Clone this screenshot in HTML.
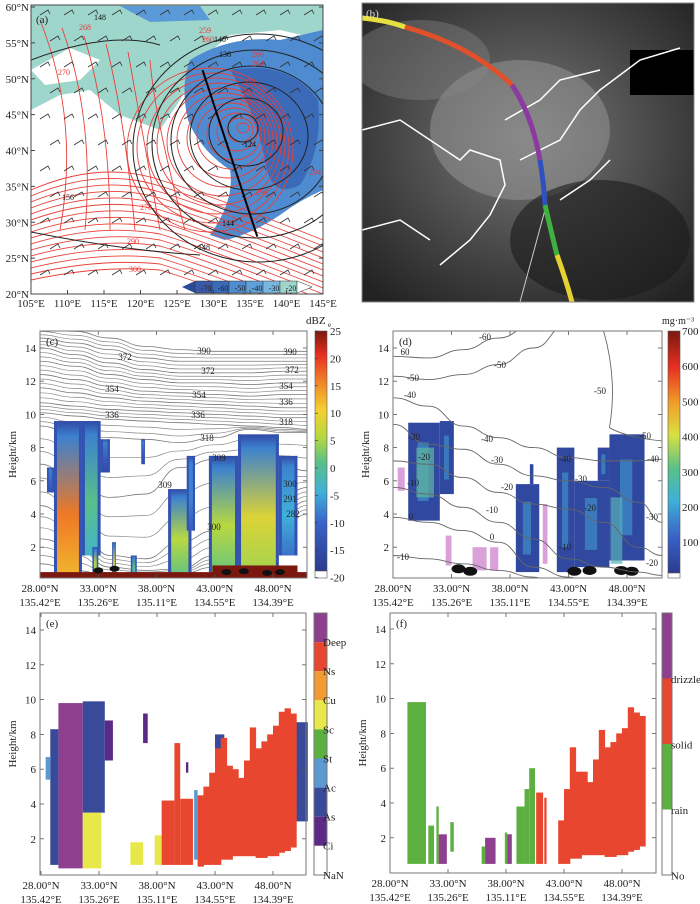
<!DOCTYPE html>
<html><head><meta charset="utf-8"><style>
html,body{margin:0;padding:0;background:#fff;}
svg{display:block;font-family:"Liberation Serif",serif;}
text{fill:#222;}
</style></head><body>
<svg id="s" width="700" height="904" viewBox="0 0 700 904" xmlns="http://www.w3.org/2000/svg">
<defs>
<clipPath id="clipA"><rect x="31" y="5" width="292" height="289"/></clipPath>
<clipPath id="clipB"><rect x="362" y="3" width="332" height="299"/></clipPath>
<clipPath id="clipC"><rect x="40" y="331" width="267" height="247"/></clipPath>
<clipPath id="clipD"><rect x="393" y="331" width="269" height="247"/></clipPath>
<linearGradient id="cbC" x1="0" y1="1" x2="0" y2="0">
<stop offset="0" stop-color="#2b3a8f"/><stop offset="0.2" stop-color="#3a62c8"/><stop offset="0.33" stop-color="#3fb0d8"/><stop offset="0.45" stop-color="#58c08a"/><stop offset="0.56" stop-color="#b8d840"/><stop offset="0.67" stop-color="#f4d030"/><stop offset="0.78" stop-color="#f08a28"/><stop offset="0.9" stop-color="#e83020"/><stop offset="1" stop-color="#7a1810"/></linearGradient>
<linearGradient id="cbD" x1="0" y1="1" x2="0" y2="0">
<stop offset="0" stop-color="#2b3a8f"/><stop offset="0.15" stop-color="#3a62c8"/><stop offset="0.3" stop-color="#3fb0d8"/><stop offset="0.43" stop-color="#58c08a"/><stop offset="0.57" stop-color="#d8e040"/><stop offset="0.7" stop-color="#f0a028"/><stop offset="0.85" stop-color="#e83020"/><stop offset="1" stop-color="#7a1810"/></linearGradient>
<radialGradient id="satG" cx="0.5" cy="0.45" r="0.7"><stop offset="0" stop-color="#7a7a7a"/><stop offset="0.6" stop-color="#444"/><stop offset="1" stop-color="#222"/></radialGradient>
</defs>
<g id="pa"></g>
<g id="pb"></g>
<g id="pc"></g>
<g id="pd"></g>
<g id="pe"></g>
<g id="pf"></g>
</svg>
<script>
// ---------- data ----------
const latTicks = ["28.00°N","33.00°N","38.00°N","43.00°N","48.00°N"];
const lonTicks = ["135.42°E","135.26°E","135.11°E","134.55°E","134.39°E"];
const latTickVals = [28,33,38,43,48];
const heightTicks = [2,4,6,8,10,12,14];
const contourLats = [28,31,34,37,40,43,46,49,51];
const thetaLevels = [390,381,372,363,354,345,336,327,318,309,300,291,282];
const thetaHeights = [
 [15.2,15.0,14.6,14.1,13.9,13.8,13.8,13.8,13.8],
 [14.6,14.3,13.9,13.4,13.2,13.2,13.2,13.2,13.2],
 [14.0,13.6,13.1,12.7,12.5,12.5,12.5,12.6,12.6],
 [13.2,12.9,12.4,12.1,11.9,11.9,11.8,11.9,11.9],
 [12.4,12.1,11.7,11.4,11.3,11.2,11.1,11.2,11.2],
 [11.6,11.3,11.0,10.8,10.7,10.6,10.5,10.4,10.4],
 [10.7,10.5,10.3,10.2,10.1,10.0,9.9,9.8,9.8],
 [10.1,9.9,9.7,9.6,9.5,9.4,9.3,9.2,9.1],
 [9.3,8.8,8.6,8.5,8.3,8.6,9.1,8.9,8.9],
 [7.0,6.0,5.0,5.2,6.8,7.3,7.3,6.8,6.6],
 [4.5,3.5,1.5,1.3,2.3,3.0,4.0,5.2,5.6],
 [2.5,2.0,0.8,0.6,0.7,1.5,3.0,4.2,4.8],
 [1.0,0.6,0.3,0.3,0.4,0.8,2.0,3.4,4.0]];
const tempLevels = [60,50,40,30,20,10,0,-10];
const tempHeights = [
 [13.5,13.4,13.9,14.6,15.4,16.0,16.0,16.0,16.0],
 [12.3,12.1,12.4,13.0,14.0,15.5,16.0,16.0,16.0],
 [11.0,10.5,9.3,8.6,8.0,7.4,7.2,7.2,7.3],
 [9.4,8.2,7.9,7.0,6.3,6.0,5.6,4.7,3.5],
 [7.2,7.0,6.2,5.3,4.6,4.3,3.5,2.0,1.5],
 [5.6,5.2,4.4,3.5,2.5,1.3,0.8,0.5,0.3],
 [3.8,3.5,3.0,2.3,0.8,0.2,-1,-1,-1],
 [1.5,1.3,1.0,0.6,0.2,-1,-1,-1,-1]];
const dbzLat0 = [29.2,31.6,28.6,33.2,36.7,32.5,34.2,35.8,39.0,40.6,42.5,45.0,48.5];
const dbzLat1 = [31.6,33.2,29.2,34.0,37.0,33.0,34.5,36.3,41.0,41.3,45.0,48.5,50.1];
const dbzBot  = [0.3,1.5,5.3,6.5,7.0,0.3,0.3,0.3,0.5,3.0,0.5,0.5,1.5];
const dbzTop  = [9.6,9.6,6.8,8.5,8.5,2.0,2.3,1.5,5.5,7.5,7.5,8.8,7.5];
const dbzPeak = [16,0,-10,-12,-12,5,10,0,5,-8,5,8,-5];
const iwcLat0 = [29.3,32.0,38.5,39.7,42.0,43.5,45.5,46.5];
const iwcLat1 = [32.0,33.2,40.5,40.0,43.5,46.5,46.5,49.5];
const iwcBot  = [3.6,5.2,0.5,5.8,0.5,0.8,6.0,1.2];
const iwcTop  = [9.5,9.6,5.8,7.0,8.0,6.0,8.0,8.8];
const ctypeNames = ["Ci","As","Ac","St","Sc","Cu","Ns","Deep"];
const ctypeColors = ["#5b2a86","#3a4a9a","#3a4a9a","#5a9ad0","#e8e84a","#f39a30","#e8462e","#8e3f8e"];
const cLat0 = [29.5,28.8,31.6,48.6,28.4,41.2,31.6,35.7,37.8,33.5,36.8,38.4,39.5,40.0,43.0,40.5];
const cLat1 = [31.6,29.5,33.5,51.0,28.8,41.5,33.2,36.8,38.4,34.2,37.2,39.5,40.0,41.1,43.8,40.7];
const cBot  = [0.3,0.5,3.5,3.0,5.4,0.8,0.3,0.5,0.5,6.5,7.5,0.5,0.5,0.5,6.5,5.8];
const cTop  = [9.8,8.3,9.9,8.7,6.7,4.8,3.5,1.8,2.2,8.8,9.2,4.2,7.5,4.3,8.0,6.4];
const cCls  = [7,1,1,1,3,3,4,4,4,0,0,6,6,6,1,0];
const nsLat = [41.5,42.0,42.5,43.0,43.5,44.0,44.5,45.0,45.5,46.0,46.5,47.0,47.5,48.0,48.5,49.0,49.5];
const nsBot = [0.4,0.5,0.5,0.5,0.8,0.8,1.0,1.0,1.0,1.0,0.9,0.9,1.0,1.0,1.2,1.3,1.5];
const nsTop = [4.5,5.0,5.8,7.2,7.8,6.2,6.0,5.5,6.5,8.4,7.2,7.6,8.0,8.5,9.3,9.5,9.2];
const solTop = [0,0,3.0,4.8,7.2,5.8,5.8,5.2,6.5,8.2,7.2,7.5,8.0,8.3,9.5,9.2,9.0];
const pNames = ["rain","solid","drizzle"];
const pColors = ["#5cb040","#e8462e","#8e3f8e"];
const pLat0 = [29.5,31.3,32.0,33.2,35.9,37.9,38.9,39.6,40.0,32.2,36.2,38.1,40.6,41.3];
const pLat1 = [31.1,31.8,32.2,33.5,36.2,38.1,39.6,40.0,40.5,32.9,37.1,38.5,41.2,41.5];
const pBot  = [0.5,0.5,0.5,1.2,0.5,0.5,0.5,0.5,0.5,0.5,0.5,0.5,0.5,0.5];
const pTop  = [9.8,2.7,3.8,2.9,1.5,2.3,3.8,4.8,6.0,2.2,2.0,2.2,4.6,4.3];
const pCls  = [0,0,0,0,0,0,0,0,0,2,2,2,1,1];

const NS="http://www.w3.org/2000/svg";
function mk(parent,tag,attrs,txt){const e=document.createElementNS(NS,tag);for(const k in attrs)e.setAttribute(k,attrs[k]);if(txt!==undefined)e.textContent=txt;parent.appendChild(e);return e;}
function dbzColor(v){const st=[[-20,[43,58,143]],[-10,[58,98,200]],[-5,[63,176,216]],[0,[88,192,138]],[5,[184,216,64]],[10,[244,208,48]],[15,[240,138,40]],[20,[232,48,32]],[25,[122,24,16]]];
 for(let i=0;i<st.length-1;i++){if(v<=st[i+1][0]){const t=(v-st[i][0])/(st[i+1][0]-st[i][0]);const c=st[i][1].map((a,j)=>Math.round(a+(st[i+1][1][j]-a)*Math.max(0,t)));return `rgb(${c})`;}}return "rgb(122,24,16)";}
function smoothPath(pts){let d=`M${pts[0][0]},${pts[0][1]}`;for(let i=1;i<pts.length;i++){const p0=pts[i-1],p1=pts[i];const mx=(p0[0]+p1[0])/2;d+=` C${mx},${p0[1]} ${mx},${p1[1]} ${p1[0]},${p1[1]}`;}return d;}

function vertPanel(g,cfg){
 const {x0,x1,y0,y1,X,Y,letter}=cfg;
 heightTicks.forEach(h=>{const yy=Y(h);
  const t=mk(g,"line",{x1:x0,x2:x0+4,y1:yy,y2:yy,stroke:"#555","stroke-width":0.8});
  
  mk(g,"line",{x1:x1,x2:x1-4,y1:yy,y2:yy,stroke:"#555","stroke-width":0.8});
  const l=mk(g,"text",{x:x0-4,y:yy+4,"text-anchor":"end","font-size":11},h);
  });
 latTickVals.forEach((v,i)=>{const xx=X(v);
  mk(g,"line",{x1:xx,x2:xx,y1:y1,y2:y1-4,stroke:"#555","stroke-width":0.8});
  mk(g,"line",{x1:xx,x2:xx,y1:y0,y2:y0+4,stroke:"#555","stroke-width":0.8});
  const a=mk(g,"text",{x:xx,y:y1+14,"text-anchor":"middle","font-size":11},latTicks[i]);
  
  const b=mk(g,"text",{x:xx,y:y1+28,"text-anchor":"middle","font-size":11},lonTicks[i]);
  });
 const fr=mk(g,"rect",{x:x0,y:y0,width:x1-x0,height:y1-y0,fill:"none",stroke:"#777","stroke-width":1});
 
 const yl=mk(g,"text",{x:0,y:0,transform:`translate(${x0-24},${(y0+y1)/2}) rotate(-90)`,"text-anchor":"middle","font-size":11},"Height/km");
 
 const pl=mk(g,"text",{x:x0+6,y:y0+14,"font-size":11},letter);
 
}

// ---------- panel (a) ----------
(function(){
 const g=document.getElementById('pa');
 const LX=l=>31+(l-105)*7.3, LY=p=>7+(60-p)*7.175;
 const cg=mk(g,"g",{"clip-path":"url(#clipA)"});
 mk(cg,"path",{d:`M31,5 L323,5 L323,40 L280,30 L230,35 L200,60 L180,100 L160,130 L120,115 L90,90 L60,95 L31,110 Z`,fill:"#9ed6cc"});
 mk(cg,"path",{d:`M31,70 L70,48 L100,60 L80,80 L45,85 Z`,fill:"#ffffff"});
 mk(cg,"path",{d:`M190,60 Q230,35 280,40 L323,30 L323,190 Q300,200 280,215 Q250,235 225,240 L210,235 Q235,200 230,170 Q200,150 188,120 Q180,85 190,60 Z`,fill:"#4f8bd0"});
 mk(cg,"path",{d:`M230,70 Q290,60 318,100 Q323,150 300,185 Q270,200 265,160 Q255,110 230,70 Z`,fill:"#3a6ab8"});
 mk(cg,"path",{d:`M120,6 L200,6 L210,20 L150,22 Z`,fill:"#5a9ad8"});
 const cx=243,cy=128;
 for(let i=0;i<12;i++){const rx=6+i*7,ry=5+i*7;
  const p=mk(cg,"ellipse",{cx:cx-i*3,cy:cy+i*2,rx:rx,ry:ry,fill:"none",stroke:"#e8403a","stroke-width":0.9});
  }
 for(let i=0;i<16;i++){const yb=190+i*6;
  mk(cg,"path",{d:`M31,${yb} Q100,${yb-30+i} 160,${yb-10} Q210,${yb+5} 323,${yb+50}`,fill:"none",stroke:"#e8403a","stroke-width":0.9});}
 for(let i=0;i<6;i++){mk(cg,"path",{d:`M${40+i*22},${20+i*8} Q${80+i*15},${120} ${60+i*25},${230}`,fill:"none",stroke:"#e8403a","stroke-width":0.9});}
 for(let i=0;i<6;i++){const rx=15+i*22,ry=14+i*20;
  mk(cg,"ellipse",{cx:cx+i*3,cy:cy+i*4,rx:rx,ry:ry,fill:"none",stroke:"#222","stroke-width":1});}
 mk(cg,"path",{d:`M31,60 Q110,30 160,45`,fill:"none",stroke:"#222","stroke-width":1});
 mk(cg,"path",{d:`M31,232 Q120,250 200,255`,fill:"none",stroke:"#222","stroke-width":1});
 for(let r=0;r<11;r++)for(let c=0;c<12;c++){const x=40+c*24+(r%2)*10,y=15+r*26;
  mk(cg,"path",{d:`M${x},${y} l8,-5 l2,4`,fill:"none",stroke:"#333","stroke-width":0.8});}
 const sl=mk(g,"line",{x1:LX(128.5),y1:LY(51.2),x2:LX(136),y2:LY(28),stroke:"#000","stroke-width":2});
 
 [["148",100,20,"#111"],["268",85,30,"#e33"],["270",64,75,"#e33"],["259",205,33,"#e33"],["260",208,42,"#e33"],["140",220,42,"#111"],["136",225,57,"#111"],["266",258,57,"#e33"],["264",258,66,"#e33"],["272",250,85,"#e33"],["274",245,96,"#e33"],["276",245,105,"#e33"],["124",250,147,"#111"],["156",68,200,"#111"],["294",315,175,"#e33"],["296",262,195,"#e33"],["144",228,226,"#111"],["148",204,250,"#111"],["278",146,210,"#e33"],["290",133,244,"#e33"],["300",135,272,"#e33"]].forEach(a=>{
  const t=mk(g,"text",{x:a[1],y:a[2],"font-size":8,"text-anchor":"middle",style:`fill:${a[3]}`},a[0]);
  });
 const cbc=["#3a5aa8","#3a6ab8","#4f8bd0","#5fa0d8","#78b8e0","#9ed6cc"];
 mk(g,"path",{d:"M182,287 L195,281 L195,293 Z",fill:"#2b4a98"});
 for(let i=0;i<6;i++){mk(g,"rect",{x:195+i*17,y:281,width:17,height:12,fill:cbc[i],stroke:"#333","stroke-width":0.5});}
 mk(g,"path",{d:"M297,281 L312,287 L297,293 Z",fill:"#fff",stroke:"#333","stroke-width":0.5});
 ["-70","-60","-50","-40","-30","-20"].forEach((v,i)=>{const t=mk(g,"text",{x:206+i*17,y:291,"font-size":8,"text-anchor":"middle"},v);});
 mk(g,"rect",{x:31,y:5,width:292,height:289,fill:"none",stroke:"#444","stroke-width":1});
 ["60°N","55°N","50°N","45°N","40°N","35°N","30°N","25°N","20°N"].forEach((s,i)=>{const yy=LY(60-5*i);
  const t=mk(g,"text",{x:29,y:yy+4,"text-anchor":"end","font-size":11},s);
  mk(g,"line",{x1:31,x2:35,y1:yy,y2:yy,stroke:"#444"});mk(g,"line",{x1:323,x2:319,y1:yy,y2:yy,stroke:"#444"});});
 ["105°E","110°E","115°E","120°E","125°E","130°E","135°E","140°E","145°E"].forEach((s,i)=>{const xx=LX(105+5*i);
  const t=mk(g,"text",{x:xx,y:307,"text-anchor":"middle","font-size":11},s);
  mk(g,"line",{x1:xx,x2:xx,y1:294,y2:290,stroke:"#444"});});
 const pl=mk(g,"text",{x:36,y:23,"font-size":11},"(a)");
})();

// ---------- panel (b) ----------
(function(){
 const g=document.getElementById('pb');
 const cg=mk(g,"g",{"clip-path":"url(#clipB)"});
 mk(cg,"rect",{x:362,y:3,width:332,height:299,fill:"url(#satG)"});
 mk(cg,"ellipse",{cx:520,cy:130,rx:90,ry:70,fill:"#9a9a9a",opacity:0.5});
 mk(cg,"ellipse",{cx:420,cy:60,rx:70,ry:40,fill:"#888",opacity:0.4});
 mk(cg,"ellipse",{cx:600,cy:240,rx:90,ry:60,fill:"#1a1a1a",opacity:0.6});
 mk(cg,"rect",{x:630,y:50,width:64,height:45,fill:"#000"});
 const coast=mk(cg,"path",{d:"M362,130 L400,120 L430,140 L460,160 L470,150 L500,160 L505,185 L490,215 L470,240 L440,265 M362,230 L400,220 L430,240 M520,160 L540,150 L560,140 L580,110 L600,90 L640,60 L680,48 M505,120 L540,100 L560,80 L600,70 M560,200 L590,180 L610,160",fill:"none",stroke:"#fff","stroke-width":1.5});
 
 mk(cg,"line",{x1:520,y1:302,x2:545,y2:210,stroke:"#ccc","stroke-width":1});
 const segs=[["#e8e040","M362,18 Q385,20 405,27"],["#e0502a","M405,27 Q470,45 512,85"],["#8a3aa0","M512,85 Q532,115 540,160"],["#3050c0","M540,160 Q544,185 545,205"],["#40b040","M545,205 Q552,235 557,255"],["#e8d030","M557,255 Q566,280 572,302"]];
 segs.forEach(s=>{const p=mk(cg,"path",{d:s[1],fill:"none",stroke:s[0],"stroke-width":5});});
 mk(g,"rect",{x:362,y:3,width:332,height:299,fill:"none",stroke:"#888"});
 const pl=mk(g,"text",{x:366,y:17,"font-size":11,style:"fill:#ddd"},"(b)");
})();

// ---------- panel (c) ----------
(function(){
 const g=document.getElementById('pc');
 const X=l=>40+(l-28)*11.65, Y=z=>348+(14-z)*16.6;
 const cg=mk(g,"g",{"clip-path":"url(#clipC)"});
 thetaLevels.forEach((lv,i)=>{const pts=contourLats.map((l,j)=>[X(l),Y(thetaHeights[i][j])]);
  const p=mk(cg,"path",{d:smoothPath(pts),fill:"none",stroke:"#777","stroke-width":0.8});
  
  if(i<thetaLevels.length-1){[1/3,2/3].forEach(f=>{const mid=contourLats.map((l,j)=>[X(l),Y(thetaHeights[i][j]*(1-f)+thetaHeights[i+1][j]*f)]);mk(cg,"path",{d:smoothPath(mid),fill:"none",stroke:"#888","stroke-width":0.7});});}
 });
 dbzLat0.forEach((l0,i)=>{const x0=X(l0),x1=X(dbzLat1[i]),yt=Y(dbzTop[i]),yb=Y(dbzBot[i]);
  const gid="gc"+i;const lg=mk(g.ownerSVGElement.querySelector('defs'),"linearGradient",{id:gid,x1:0,y1:0,x2:0,y2:1});
  mk(lg,"stop",{offset:0,"stop-color":dbzColor(-16)});mk(lg,"stop",{offset:0.1,"stop-color":dbzColor(-8)});mk(lg,"stop",{offset:0.6,"stop-color":dbzColor(dbzPeak[i])});mk(lg,"stop",{offset:1,"stop-color":dbzColor(dbzPeak[i]-4)});
  const r=mk(cg,"rect",{x:x0,y:yt,width:x1-x0,height:yb-yt,fill:`url(#${gid})`});
  
  mk(cg,"rect",{x:x0,y:yt,width:Math.min(3,(x1-x0)/4),height:yb-yt,fill:dbzColor(-14)});
  mk(cg,"rect",{x:x1-Math.min(3,(x1-x0)/4),y:yt,width:Math.min(3,(x1-x0)/4),height:yb-yt,fill:dbzColor(-14)});
 });
 mk(cg,"rect",{x:40,y:Y(0.5),width:267,height:Y(0)-Y(0.5),fill:"#7a1810"});
 mk(cg,"rect",{x:X(42.8),y:Y(0.9),width:X(50.1)-X(42.8),height:Y(0.4)-Y(0.9),fill:"#7a1810"});
 [[44,0.5],[45.5,0.55],[47.5,0.45],[48.6,0.5],[33,0.6],[34.4,0.7]].forEach(b=>mk(cg,"ellipse",{cx:X(b[0]),cy:Y(b[1]),rx:5,ry:3,fill:"#111"}));
 [["372",125,360],["390",204,354],["390",290,355],["372",208,374],["372",292,373],["354",112,392],["354",199,398],["354",286,389],["336",112,418],["336",198,418],["336",286,405],["318",207,441],["318",286,425],["309",219,461],["300",290,487],["291",290,502],["282",293,517],["300",214,530],["309",165,488]].forEach(a=>{
  const t=mk(g,"text",{x:a[1],y:a[2],"font-size":9,"text-anchor":"middle"},a[0]);});
 vertPanel(g,{x0:40,x1:307,y0:331,y1:578,X:X,Y:Y,letter:"(c)"});
 const cb=mk(g,"rect",{x:315,y:331,width:12,height:240,fill:"url(#cbC)",stroke:"#555","stroke-width":0.6});
 
 mk(g,"rect",{x:315,y:571,width:12,height:7,fill:"#fff",stroke:"#555","stroke-width":0.6});
 ["25","20","15","10","5","0","-5","-10","-15","-20"].forEach((v,i)=>{const yy=331+i*27.4;
  const t=mk(g,"text",{x:330,y:yy+4,"font-size":11},v);
  mk(g,"line",{x1:315,x2:318,y1:yy,y2:yy,stroke:"#333","stroke-width":0.6});});
 const u=mk(g,"text",{x:306,y:324,"font-size":11},"dBZ");
 mk(g,"text",{x:328,y:327,"font-size":7},"e");
})();

// ---------- panel (d) ----------
(function(){
 const g=document.getElementById('pd');
 const X=l=>393+(l-28)*11.7, Y=z=>348+(14-z)*16.6;
 const cg=mk(g,"g",{"clip-path":"url(#clipD)"});
 iwcLat0.forEach((l0,i)=>{const x0=X(l0),x1=X(iwcLat1[i]),yt=Y(iwcTop[i]),yb=Y(iwcBot[i]);
  const r=mk(cg,"rect",{x:x0,y:yt,width:x1-x0,height:yb-yt,fill:"#3048a0"});
  
  if(x1-x0>10){mk(cg,"rect",{x:x0+(x1-x0)*0.3,y:yt+(yb-yt)*0.2,width:(x1-x0)*0.35,height:(yb-yt)*0.6,fill:"#3f8fc8",opacity:0.7});}
 });
 mk(cg,"rect",{x:X(30.0),y:Y(8),width:X(31.5)-X(30),height:Y(5)-Y(8),fill:"#60b8a0",opacity:0.7});
 mk(cg,"rect",{x:X(46.6),y:Y(5),width:X(47.6)-X(46.6),height:Y(1)-Y(5),fill:"#58b0b8",opacity:0.7});
 [[28.4,29.0,5.4,6.8],[32.5,33.0,0.9,2.7],[34.8,36.0,0.6,2.0],[36.3,37.0,0.6,2.0],[40.8,41.2,1,4.6]].forEach(m=>mk(cg,"rect",{x:X(m[0]),y:Y(m[3]),width:X(m[1])-X(m[0]),height:Y(m[2])-Y(m[3]),fill:"#c060c0",opacity:0.6}));
 [[33.6,0.7],[34.6,0.55],[43.5,0.55],[44.8,0.6],[47.5,0.6],[48.4,0.55]].forEach(b=>mk(cg,"ellipse",{cx:X(b[0]),cy:Y(b[1]),rx:7,ry:4.5,fill:"#111"}));
 tempLevels.forEach((lv,i)=>{const pts=contourLats.map((l,j)=>[X(l),Y(tempHeights[i][j])]);
  const p=mk(cg,"path",{d:smoothPath(pts),fill:"none",stroke:"#666","stroke-width":0.9});
  });
 mk(cg,"path",{d:`M${X(46)},331 Q${X(47.2)},380 ${X(46.5)},${Y(9.2)} Q${X(48)},${Y(8.6)} 662,${Y(8.4)}`,fill:"none",stroke:"#666","stroke-width":0.9});
 [["60",405,355],["-50",413,381],["-40",410,398],["-30",414,440],["-20",424,460],["-10",413,486],["0",411,520],["-10",403,560],["-60",485,340],["-50",500,368],["-40",487,442],["-30",497,463],["-20",507,490],["-10",492,513],["0",492,540],["-40",565,462],["-30",581,482],["-20",590,511],["-10",565,550],["-50",600,394],["-50",645,439],["-40",653,462],["-30",652,520],["-20",652,566]].forEach(a=>{
  const t=mk(g,"text",{x:a[1],y:a[2],"font-size":9,"text-anchor":"middle"},a[0]);});
 vertPanel(g,{x0:393,x1:662,y0:331,y1:578,X:X,Y:Y,letter:"(d)"});
 const cb=mk(g,"rect",{x:668,y:331,width:12,height:242,fill:"url(#cbD)",stroke:"#555","stroke-width":0.6});
 
 mk(g,"rect",{x:668,y:573,width:12,height:5,fill:"#fff",stroke:"#555","stroke-width":0.6});
 ["700","600","500","400","300","200","100"].forEach((v,i)=>{const yy=331+i*35.2;
  const t=mk(g,"text",{x:682,y:yy+4,"font-size":11},v);});
 const u=mk(g,"text",{x:662,y:324,"font-size":10},"mg·m⁻³");
})();

// ---------- panel (e) ----------
(function(){
 const g=document.getElementById('pe');
 const X=l=>41+(l-28)*11.6, Y=z=>630+(14-z)*17.4;
 cLat0.forEach((l0,i)=>{const r=mk(g,"rect",{x:X(l0),y:Y(cTop[i]),width:X(cLat1[i])-X(l0),height:Y(cBot[i])-Y(cTop[i]),fill:ctypeColors[cCls[i]]});
  });
 nsLat.forEach((l,i)=>{const r=mk(g,"rect",{x:X(l),y:Y(nsTop[i]),width:11.6*0.5+0.5,height:Y(nsBot[i])-Y(nsTop[i]),fill:"#e8462e"});
  });
 vertPanel(g,{x0:40,x1:306,y0:613,y1:875,X:X,Y:Y,letter:"(e)"});
 const segC=["#8e3f8e","#e8462e","#f39a30","#e8e84a","#5cb040","#5a9ad0","#3a4a9a","#5b2a86","#ffffff"];
 segC.forEach((c,i)=>{const r=mk(g,"rect",{x:314,y:613+i*29.1,width:13,height:29.1,fill:c});});
 mk(g,"rect",{x:314,y:613,width:13,height:262,fill:"none",stroke:"#777"});
 ["Deep","Ns","Cu","Sc","St","Ac","As","Ci","NaN"].forEach((v,i)=>{const t=mk(g,"text",{x:323,y:646+i*29.1,"font-size":11},v);});
})();

// ---------- panel (f) ----------
(function(){
 const g=document.getElementById('pf');
 const X=l=>390+(l-28)*11.6, Y=z=>629+(14-z)*17.4;
 pLat0.forEach((l0,i)=>{const r=mk(g,"rect",{x:X(l0),y:Y(pTop[i]),width:X(pLat1[i])-X(l0),height:Y(pBot[i])-Y(pTop[i]),fill:pColors[pCls[i]]});
  });
 nsLat.forEach((l,i)=>{if(solTop[i]<=0)return;const r=mk(g,"rect",{x:X(l),y:Y(solTop[i]),width:11.6*0.5+0.5,height:Y(Math.max(0.5,nsBot[i]))-Y(solTop[i]),fill:"#e8462e"});
  });
 vertPanel(g,{x0:390,x1:656,y0:613,y1:873,X:X,Y:Y,letter:"(f)"});
 const segC=["#8e3f8e","#e8462e","#5cb040","#ffffff"];
 segC.forEach((c,i)=>{const r=mk(g,"rect",{x:662,y:613+i*65.5,width:10,height:65.5,fill:c});});
 mk(g,"rect",{x:662,y:613,width:10,height:262,fill:"none",stroke:"#777"});
 ["drizzle","solid","rain","No"].forEach((v,i)=>{const t=mk(g,"text",{x:671,y:683+i*65.5,"font-size":11},v);});
})();
</script>
</body></html>
